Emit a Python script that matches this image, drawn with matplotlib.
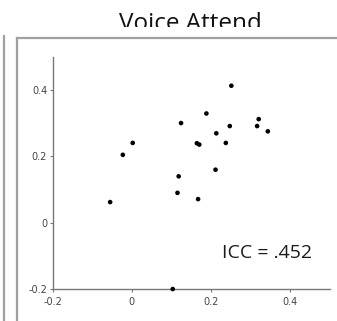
import matplotlib
matplotlib.use("Agg")
import matplotlib.pyplot as plt
from matplotlib.lines import Line2D
from matplotlib.patches import Rectangle

# Per-subject values for the two measurements
x_vals = [-0.055, -0.023, 0.002, 0.124, 0.118, 0.115, 0.103, 0.164, 0.170, 0.167,
          0.188, 0.213, 0.211, 0.237, 0.247, 0.251, 0.316, 0.320, 0.343]
y_vals = [0.062, 0.205, 0.241, 0.301, 0.140, 0.090, -0.201, 0.240, 0.236, 0.071,
          0.330, 0.270, 0.160, 0.241, 0.292, 0.414, 0.292, 0.313, 0.276]

x_ticks = [-0.2, 0, 0.2, 0.4]
y_ticks = [-0.2, 0, 0.2, 0.4]
tick_labels = ["-0.2", "0", "0.2", "0.4"]

title = "Voice Attend"
icc_label = "ICC = .452"

W, H = 337, 321
fig = plt.figure(figsize=(W / 100, H / 100), dpi=100)
fig.patch.set_facecolor("white")

ax = fig.add_axes([52.7 / W, 1 - 288.7 / H, (330 - 52.7) / W, (288.7 - 57.3) / H])
ax.scatter(x_vals, y_vals, s=11, color="black", edgecolors="none", zorder=3, clip_on=False)
ax.set_xlim(-0.2, 0.5)
ax.set_ylim(-0.2, 0.5)
for side in ("top", "right"):
    ax.spines[side].set_visible(False)
for side in ("left", "bottom"):
    ax.spines[side].set_color("#777777")
    ax.spines[side].set_linewidth(1.0)
ax.set_xticks(x_ticks)
ax.set_xticklabels(tick_labels)
ax.set_yticks(y_ticks)
ax.set_yticklabels(tick_labels)
ax.tick_params(axis="both", length=2.5, width=0.8, color="#777777",
               labelsize=7, labelcolor="#444444")
ax.tick_params(axis="x", pad=3.5)
ax.tick_params(axis="y", pad=1.5)
ax.set_facecolor("none")

ax.text(0.456, -0.093, icc_label, ha="right", va="center", fontsize=14,
        family="Open Sans", color="#1a1a1a")

# Panel frame lines
frame_kw = dict(color="#a0a0a0", linewidth=1.6, transform=fig.transFigure)
top_y = 1 - 38 / H
fig.add_artist(Line2D([17 / W, 1.0], [top_y, top_y], **frame_kw))
fig.add_artist(Line2D([17 / W, 17 / W], [0, top_y], **frame_kw))
fig.add_artist(Line2D([3.5 / W, 3.5 / W], [0, 1 - 36 / H], **frame_kw))

# Heading, cut off along its lower edge
t = fig.text(190.5 / W, 1 - 30 / H, title, ha="center", va="baseline",
             fontsize=17.5, family="Open Sans", color="#111111")
clip = Rectangle((0, 1 - 27 / H), 1, 27 / H, transform=fig.transFigure,
                 facecolor="none", edgecolor="none")
fig.add_artist(clip)
t.set_clip_path(clip)

fig.savefig("out.png", dpi=100, facecolor="white")
